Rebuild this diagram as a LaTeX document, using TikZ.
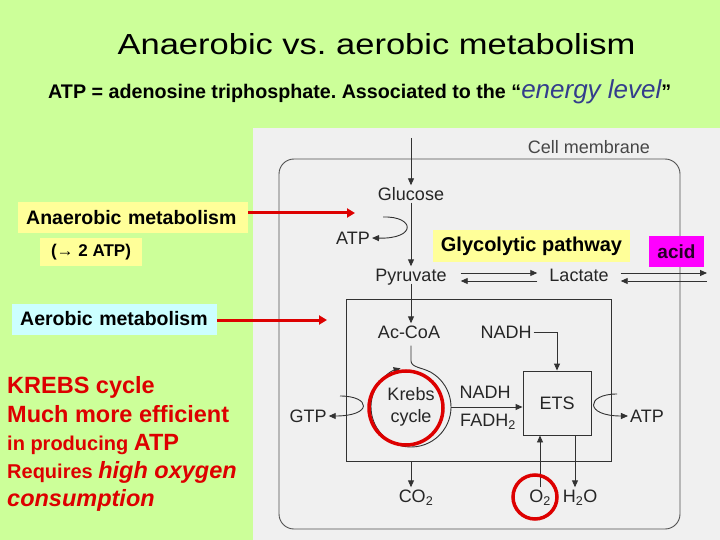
\documentclass[tikz,border=0pt]{standalone}
\usepackage{fontspec}
\setmainfont{Liberation Sans}
\usetikzlibrary{arrows.meta,calc}
\definecolor{bggreen}{RGB}{204,255,153}
\definecolor{panel}{RGB}{240,240,240}
\definecolor{yel}{RGB}{255,255,153}
\definecolor{cyanbox}{RGB}{204,255,255}
\definecolor{mag}{RGB}{255,0,255}
\definecolor{acidtext}{RGB}{40,0,40}
\definecolor{redt}{RGB}{221,0,0}
\definecolor{bluet}{RGB}{51,61,140}
\definecolor{gline}{RGB}{50,50,50}
\definecolor{gtext}{RGB}{38,38,38}
\newcommand{\myfs}[1]{\fontsize{#1}{#1}\selectfont}
\frenchspacing
\begin{document}
\begin{tikzpicture}[x=1pt,y=-1pt,
  lbl/.style={font=\myfs{18}, text=gtext, inner sep=2pt, text height=13pt, text depth=0pt},
  ln/.style={draw=gline, line width=0.9pt},
  arr/.style={ln, -{Triangle[length=7pt,width=6pt]}},
  redarr/.style={draw=redt, line width=3pt, -{Triangle[length=8pt,width=9pt]}},
  redring/.style={draw=redt, line width=3.5pt},
  sidebox/.style={font=\bfseries\myfs{19.5}, anchor=west, inner xsep=8pt, inner ysep=0pt, minimum height=31pt, align=left},
  redtxt/.style={text=redt, font=\bfseries\myfs{23.5}, anchor=base west, inner sep=0pt}]
\useasboundingbox (0,0) rectangle (720,540);
\fill[bggreen] (0,0) rectangle (720,540);
\fill[panel] (253,128) rectangle (720,540);

% title
\node[anchor=base, font=\myfs{29}, inner sep=0pt] (title) at (376.5,55) {\scalebox{1.19}[1]{Anaerobic vs. aerobic metabolism}};
\node[anchor=base west, inner sep=0pt] (sub) at (48,99) {{\bfseries\myfs{19.7}ATP = adenosine triphosphate. Associated to the “}{\color{bluet}\itshape\myfs{26}energy level}{\bfseries\myfs{19.7}”}};

% cell membrane and mitochondrion
\node[draw=gline!85, line width=0.9pt, rounded corners=15pt, minimum width=401pt, minimum height=370pt] (cell) at (479.5,344) {};
\node[lbl, text=gtext!85] (cm) at (589,147) {Cell membrane};
\node[draw=gline, line width=0.9pt, minimum width=265pt, minimum height=162pt] (mito) at (478.5,380) {};

% metabolites
\node[lbl] (glu) at (411,194) {Glucose};
\node[lbl] (pyr) at (411,275) {Pyruvate};
\node[lbl] (atp1) at (353,238) {ATP};
\node[lbl] (lac) at (579,275) {Lactate};
\node[lbl] (acoa) at (409,332) {Ac-CoA};
\node[lbl] (nadh1) at (506,332) {NADH};
\node[lbl, draw=gline, line width=0.9pt, minimum width=68pt, minimum height=64pt] (ets) at (557,403) {ETS};
\node[lbl] (nadh2) at (485,392) {NADH};
\node[lbl] (fadh) at (488,420) {FADH\textsubscript{2}};
\node[circle, minimum size=80pt, inner sep=0pt, align=center, font=\fontsize{18}{22}\selectfont, text=gtext] (krebs) at (411,407) {Krebs\\cycle};
\node[lbl] (gtp) at (308,416) {GTP};
\node[lbl] (atp2) at (647,416) {ATP};
\node[lbl] (co2) at (416,496) {CO\textsubscript{2}};
\node[lbl] (o2) at (540,496) {O\textsubscript{2}};
\node[lbl] (h2o) at (580,496) {H\textsubscript{2}O};

% highlighted labels in diagram
\node[fill=yel, font=\bfseries\myfs{20}, minimum width=197pt, minimum height=32pt, inner sep=0pt] (glyc) at (531.5,246) {Glycolytic pathway};
\node[fill=mag, text=acidtext, font=\bfseries\myfs{19}, minimum width=55pt, minimum height=31pt, inner sep=0pt] (acid) at (676.5,251.5) {acid};

% coordinates for free ends
\coordinate (gin) at (411,138);
\coordinate (atpc) at (383,217);
\coordinate (gtpc) at (340,396);
\coordinate (atpc2) at (617,394);
\coordinate (out1) at (707,273);
\coordinate (out2) at (707,281);
\coordinate (kp1) at ($(krebs)+(20,-34.64)$);
\coordinate (h2oin) at ($(h2o.north)+(-5,0)$);

% connectors
\draw[arr] (gin) -- (gin |- glu.north);
\draw[arr] (glu.south) -- (pyr.north);
\draw[arr] (atpc) .. controls (415,216) and (417,239) .. (atp1.east);
\draw[arr] ($(pyr.east)+(12,-2)$) -- ($(lac.west)+(-10,-2)$);
\draw[arr] ($(lac.west)+(-10,6)$) -- ($(pyr.east)+(12,6)$);
\draw[arr] ($(lac.east)+(10,-2)$) -- (out1);
\draw[arr] (out2) -- ($(lac.east)+(10,6)$);
\draw[arr] (pyr.south) -- (pyr.south |- acoa.north);
\draw[arr] (nadh1.east) -| (ets.north);
\draw[ln, -{Triangle[length=7pt,width=6pt]}] ($(acoa.south -| krebs)+(0,5)$) -- ++(0,15) .. controls +(0,7) and ($(kp1)+(-8.7,-5)$) .. (kp1) arc[start angle=-60, end angle=255, radius=40];
\draw[arr] (krebs.east) -- (krebs.east -| ets.west);
\draw[arr] (gtpc) .. controls (371,396) and (373,416) .. (gtp.east);
\draw[arr] (atpc2) .. controls (586,394) and (584,416) .. (atp2.west);
\draw[arr] (krebs |- mito.south) -- (krebs |- co2.north);
\draw[arr] (o2.north) -- (o2.north |- ets.south);
\draw[arr] (h2oin |- ets.south) -- (h2oin);

% red rings
\draw[redring] (406,408) circle (37);
\draw[redring] (535,497) circle (22);

% left side labels
\node[sidebox, fill=yel, text width=214pt] (anae) at (18,217.5) {Anaerobic metabolism};
\node[fill=yel, font=\bfseries\myfs{17}, minimum width=102pt, minimum height=28pt, inner sep=0pt] (twoatp) at (91,252) {(→ 2 ATP)};
\node[sidebox, fill=cyanbox, text width=189pt] (aero) at (12,319) {Aerobic metabolism};
\coordinate (ra1) at (355,213);
\coordinate (ra2) at (327,320);
\draw[redarr] (anae.east |- ra1) -- (ra1);
\draw[redarr] (aero.east |- ra2) -- (ra2);

% red text
\node[redtxt] (kr1) at (7,393) {KREBS cycle};
\node[redtxt] (kr2) at (7,422) {Much more efficient};
\node[redtxt] (kr3) at (7,450) {{\myfs{20}in producing }ATP};
\node[redtxt] (kr4) at (7,478) {{\myfs{20}Requires }{\itshape high oxygen}};
\node[redtxt] (kr5) at (7,506) {\itshape consumption};
\end{tikzpicture}
\end{document}
